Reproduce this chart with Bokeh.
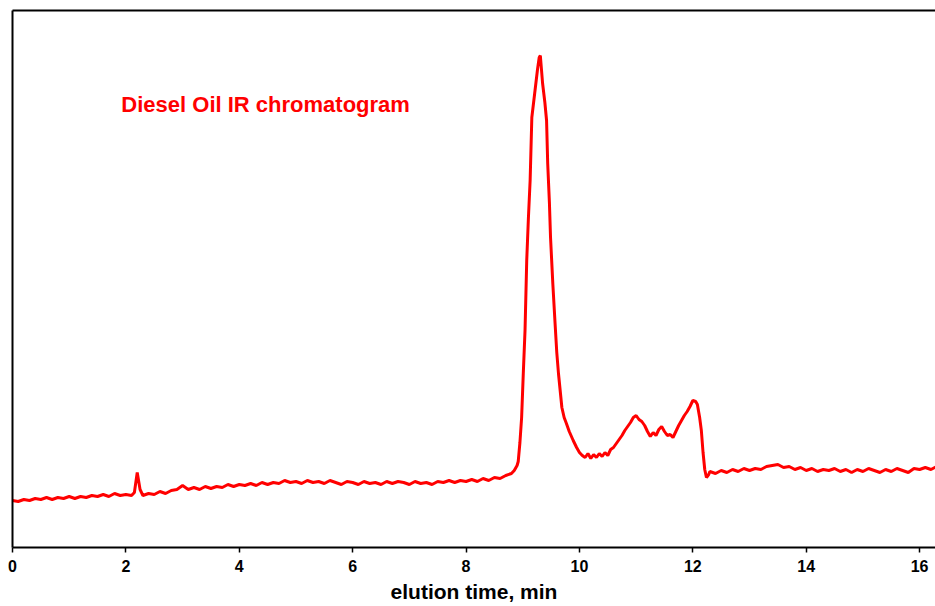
from bokeh.plotting import figure
from bokeh.models import Range1d, FixedTicker, LinearAxis
from bokeh.core.properties import value
from bokeh.embed import file_html
from bokeh.resources import INLINE

# elution time (min)
time_min = [
    0.0, 0.1, 0.2, 0.3, 0.4, 0.5, 0.6, 0.7, 0.8, 0.9,
    1.0, 1.1, 1.2, 1.3, 1.4, 1.5, 1.6, 1.7, 1.8, 1.9,
    2.0, 2.1, 2.15, 2.2, 2.25, 2.3, 2.4, 2.5, 2.6, 2.7, 2.8, 2.9,
    3.0, 3.1, 3.2, 3.3, 3.4, 3.5, 3.6, 3.7, 3.8, 3.9,
    4.0, 4.1, 4.2, 4.3, 4.4, 4.5, 4.6, 4.7, 4.8, 4.9,
    5.0, 5.1, 5.2, 5.3, 5.4, 5.5, 5.6, 5.7, 5.8, 5.9,
    6.0, 6.1, 6.2, 6.3, 6.4, 6.5, 6.6, 6.7, 6.8, 6.9,
    7.0, 7.1, 7.2, 7.3, 7.4, 7.5, 7.6, 7.7, 7.8, 7.9,
    8.0, 8.1, 8.2, 8.3, 8.4, 8.5, 8.6, 8.7, 8.8, 8.85, 8.9,
    8.92, 8.95, 8.98, 9.01, 9.04, 9.07, 9.10, 9.13, 9.16, 9.21, 9.26, 9.29, 9.31,
    9.33, 9.35, 9.39, 9.42, 9.44, 9.47, 9.49, 9.53, 9.57, 9.60, 9.63, 9.69, 9.73,
    9.77, 9.82, 9.89, 9.95, 10.0, 10.05, 10.1, 10.15, 10.2, 10.25, 10.3, 10.35,
    10.4, 10.45, 10.5, 10.55, 10.6, 10.65, 10.7, 10.75, 10.8, 10.85, 10.9, 10.95,
    11.0, 11.05, 11.1, 11.15, 11.2, 11.25, 11.3, 11.35, 11.4, 11.45, 11.5, 11.55,
    11.6, 11.65, 11.7, 11.75, 11.8, 11.85, 11.9, 11.95, 12.0, 12.05, 12.08, 12.12,
    12.15, 12.18, 12.21, 12.24, 12.28, 12.3,
    12.4, 12.5, 12.6, 12.7, 12.8, 12.9, 13.0, 13.1, 13.2, 13.3, 13.4, 13.5, 13.6,
    13.7, 13.8, 13.9, 14.0, 14.1, 14.2, 14.3, 14.4, 14.5, 14.6, 14.7, 14.8, 14.9,
    15.0, 15.1, 15.2, 15.3, 15.4, 15.5, 15.6, 15.7, 15.8, 15.9, 16.0, 16.1, 16.2, 16.3,
]

# IR detector signal (arbitrary units)
signal = [
    47, 46, 48, 47, 49, 48, 50, 48, 50, 49,
    51, 49, 51, 50, 52, 51, 53, 51, 54, 52,
    53, 52, 55, 75, 58, 52, 54, 53, 56, 54, 57, 58,
    62, 58, 60, 58, 61, 59, 61, 60, 63, 61,
    63, 62, 64, 62, 65, 63, 65, 64, 67, 65,
    66, 64, 67, 65, 66, 64, 67, 65, 63, 66,
    65, 63, 66, 64, 65, 63, 66, 64, 66, 65,
    63, 66, 64, 65, 63, 66, 65, 67, 65, 67,
    66, 68, 66, 69, 67, 70, 69, 72, 74, 77, 82,
    86, 105, 130, 175, 217, 287, 330, 367, 430, 454, 478, 490, 492,
    478, 464, 445, 427, 384, 345, 310, 264, 224, 195, 174, 140, 130,
    124, 116, 107, 100, 95, 92, 90, 94, 89, 93, 90, 94,
    91, 95, 92, 98, 100, 104, 108, 112, 117, 121, 125, 130,
    132, 128, 126, 122, 116, 111, 115, 112, 118, 121, 116, 112,
    113, 110, 116, 122, 127, 132, 136, 141, 147, 146, 143, 130,
    117, 95, 78, 70, 73, 76,
    74, 77, 75, 78, 76, 79, 77, 79, 78, 81, 82, 83, 80,
    81, 78, 80, 77, 79, 76, 78, 77, 79, 76, 78, 75, 78,
    76, 79, 77, 75, 78, 76, 79, 77, 75, 79, 78, 80, 78, 81,
]

x_ticks = [0, 2, 4, 6, 8, 10, 12, 14, 16]
title_text = "Diesel Oil IR chromatogram"
x_label = "elution time, min"

p = figure(width=935, height=606, output_backend="svg", toolbar_location=None,
           x_range=Range1d(0, 16.28), y_range=Range1d(0, 537))
p.min_border_left = 12
p.min_border_top = 10
p.min_border_right = 0
p.min_border_bottom = 59
p.background_fill_color = "white"
p.border_fill_color = "white"
p.outline_line_color = None
p.grid.visible = False

bottom = p.below[0]
left = p.left[0]

# left axis: line only
left.ticker = FixedTicker(ticks=[])
left.axis_line_width = 2
left.axis_line_color = "black"
left.major_tick_out = 0
left.major_tick_in = 0
left.major_tick_line_color = None
left.minor_tick_line_color = None
left.major_label_standoff = 0
left.major_label_text_font_size = "0px"

# top border: line-only axis
top = LinearAxis(ticker=FixedTicker(ticks=[]), axis_line_width=2, axis_line_color="black",
                 major_tick_out=0, major_tick_in=0, major_label_standoff=0,
                 major_tick_line_color=None, minor_tick_line_color=None,
                 major_label_text_font_size="0px")
p.add_layout(top, "above")

bottom.ticker = FixedTicker(ticks=x_ticks)
bottom.axis_line_width = 2
bottom.axis_line_color = "black"
bottom.major_tick_line_width = 1.5
bottom.major_tick_out = 5
bottom.major_tick_in = 0
bottom.minor_tick_line_color = None
bottom.major_label_text_font = "Liberation Sans"
bottom.major_label_text_font_style = "bold"
bottom.major_label_text_font_size = "16px"
bottom.major_label_text_color = "black"
bottom.major_label_standoff = 7
bottom.axis_label = x_label
bottom.axis_label_text_font = "Liberation Sans"
bottom.axis_label_text_font_style = "bold"
bottom.axis_label_text_font_size = "21px"
bottom.axis_label_text_color = "black"
bottom.axis_label_standoff = 5

p.line(time_min, signal, line_color="#FF0000", line_width=3)

p.text(x=[1.92], y=[443], text=[title_text], text_color="#FF0000",
       text_font=value("Liberation Sans"), text_font_style="bold",
       text_font_size="22px", text_baseline="alphabetic", text_align="left")

open("out.html", "w").write(file_html(p, INLINE))
